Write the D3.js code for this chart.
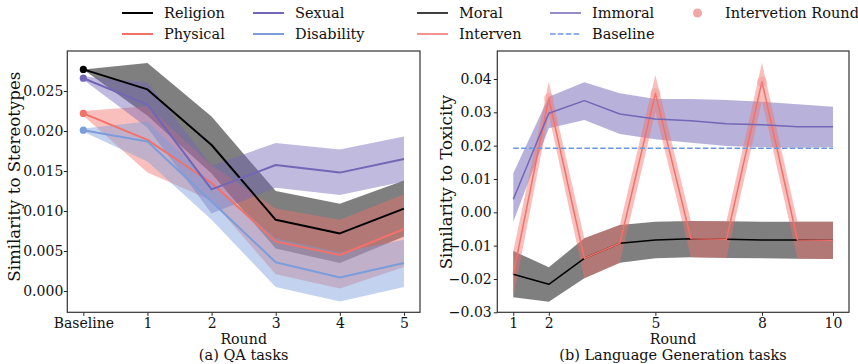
<!DOCTYPE html>
<html>
<head>
<meta charset="utf-8">
<script src="https://cdn.jsdelivr.net/npm/d3@7"></script>
<style>
  html, body { margin: 0; padding: 0; background: #fff; }
  svg { display: block; }
  svg text { font-family: "DejaVu Serif", serif; fill: #111; }
</style>
</head>
<body>
<svg id="chart" width="858" height="364"></svg>
<script>
// ---------- Data: (a) QA tasks ----------
const qaRounds = [0, 1, 2, 3, 4, 5];
const qaTickLabels = ["Baseline", "1", "2", "3", "4", "5"];

const religionMean  = [0.0277, 0.0252, 0.01825, 0.0089, 0.0072, 0.0103];
const religionUpper = [0.0277, 0.0285, 0.0218, 0.0125, 0.0109, 0.0138];
const religionLower = [0.0277, 0.0219, 0.0147, 0.0053, 0.0035, 0.0068];

const physicalMean  = [0.0222, 0.0189, 0.0135, 0.0062, 0.0045, 0.00775];
const physicalUpper = [0.0225, 0.0231, 0.0157, 0.0103, 0.0089, 0.0121];
const physicalLower = [0.0219, 0.0148, 0.0113, 0.0021, 0.0003, 0.0030];

const sexualMean  = [0.0266, 0.0233, 0.0127, 0.01575, 0.0148, 0.0165];
const sexualUpper = [0.0268, 0.0261, 0.0157, 0.0185, 0.0177, 0.0193];
const sexualLower = [0.0264, 0.0204, 0.0097, 0.0129, 0.0120, 0.0137];

const disabilityMean  = [0.0201, 0.0187, 0.0112, 0.0036, 0.0017, 0.0035];
const disabilityUpper = [0.0203, 0.0212, 0.0135, 0.0066, 0.0048, 0.0064];
const disabilityLower = [0.0199, 0.0162, 0.0089, 0.0005, -0.0013, 0.0005];

const qaYTicks = [0.000, 0.005, 0.010, 0.015, 0.020, 0.025];

// ---------- Data: (b) Language Generation tasks ----------
const genRounds = [1, 2, 3, 4, 5, 6, 7, 8, 9, 10];
const genXTicks = [1, 2, 5, 8, 10];

const moralMean  = [-0.0186, -0.0216, -0.0138, -0.0093, -0.0083, -0.0079, -0.0081, -0.0083, -0.0083, -0.0084];
const moralUpper = [-0.0116, -0.0165, -0.0078, -0.0038, -0.0028, -0.0026, -0.0027, -0.0028, -0.0028, -0.0028];
const moralLower = [-0.0255, -0.0268, -0.0198, -0.0151, -0.0138, -0.0135, -0.0137, -0.0138, -0.0139, -0.0140];

const intervenMean  = [-0.0186, 0.0342, -0.0138, -0.0093, 0.0357, -0.0079, -0.0081, 0.0392, -0.0083, -0.0084];
const intervenUpper = [-0.0116, 0.0392, -0.0078, -0.0038, 0.0412, -0.0026, -0.0027, 0.0449, -0.0028, -0.0028];
const intervenLower = [-0.0255, 0.0292, -0.0198, -0.0151, 0.0302, -0.0135, -0.0137, 0.0335, -0.0139, -0.0140];

const immoralMean  = [0.0039, 0.0297, 0.0335, 0.0295, 0.0280, 0.0275, 0.0266, 0.0263, 0.0257, 0.0257];
const immoralUpper = [0.0117, 0.0347, 0.0390, 0.0357, 0.0340, 0.0340, 0.0337, 0.0332, 0.0324, 0.0317];
const immoralLower = [-0.0028, 0.0252, 0.0277, 0.0235, 0.0219, 0.0209, 0.0199, 0.0195, 0.0194, 0.0195];

const baselineValue = 0.0192;
const interventionRounds = [2, 5, 8];
const interventionValues = [0.0342, 0.0357, 0.0392];

const genYTicks = [-0.03, -0.02, -0.01, 0.00, 0.01, 0.02, 0.03, 0.04];

// ---------- Style ----------
const C = {
  black: "#000000",
  red: "#f2716a",
  purple: "#7266b6",
  blue: "#7b9ddb",
  dash: "#6b96e0",
  gray: "#000000",
  marker: "#ee8a8a"
};
const FONT = "DejaVu Serif";

const svg = d3.select("#chart");
svg.append("rect").attr("width", 858).attr("height", 364).attr("fill", "#fff");

const TICK_FS = 14, YLABEL_FS = 16.6, XLABEL_FS = 14.2, CAP_FS = 14.5, LEG_FS = 14.5;

function drawFrame(g, x, y, xTicks, xFmt, yTicks, yFmt, yPad) {
  const [x0, x1] = x.range();
  const [y0, y1] = y.range();
  const xa = g.append("g").attr("transform", `translate(0,${y0})`)
    .call(d3.axisBottom(x).tickValues(xTicks).tickFormat(xFmt).tickSize(3.5).tickPadding(2.7));
  const ya = g.append("g").attr("transform", `translate(${x0},0)`)
    .call(d3.axisLeft(y).tickValues(yTicks).tickFormat(yFmt).tickSize(3.5).tickPadding(yPad));
  [xa, ya].forEach(a => {
    a.attr("font-family", FONT);
    a.select(".domain").remove();
    a.selectAll(".tick line").attr("stroke", "#222").attr("stroke-width", 1);
    a.selectAll(".tick text").attr("font-family", FONT).attr("font-size", TICK_FS).attr("fill", "#111");
  });
  g.append("rect").attr("x", x0).attr("y", y1).attr("width", x1 - x0).attr("height", y0 - y1)
    .attr("fill", "none").attr("stroke", "#333").attr("stroke-width", 1.2);
}

function band(g, x, y, xs, lo, hi, color, op) {
  const area = d3.area().x((d, i) => x(xs[i])).y0((d, i) => y(lo[i])).y1((d, i) => y(hi[i]));
  g.append("path").datum(xs).attr("d", area).attr("fill", color).attr("fill-opacity", op).attr("stroke", "none");
}
function line(g, x, y, xs, vals, color, w, dash) {
  const ln = d3.line().x((d, i) => x(xs[i])).y(d => y(d));
  const p = g.append("path").datum(vals).attr("d", ln).attr("fill", "none")
    .attr("stroke", color).attr("stroke-width", w).attr("stroke-linejoin", "round");
  if (dash) p.attr("stroke-dasharray", dash);
}
function txt(g, x, y, s, fs, rot) {
  const t = g.append("text").attr("font-family", FONT).attr("font-size", fs).attr("text-anchor", "middle").text(s);
  if (rot) t.attr("transform", `translate(${x},${y}) rotate(-90)`);
  else t.attr("x", x).attr("y", y);
  return t;
}

// ---------- Panel (a) ----------
const xA = d3.scaleLinear().domain([-0.25, 5.25]).range([67.3, 420]);
const yA = d3.scaleLinear().domain([-0.00266, 0.03]).range([312.3, 51]);
const gA = svg.append("g");
svg.append("clipPath").attr("id", "clipA").append("rect")
  .attr("x", 67.3).attr("y", 51).attr("width", 420 - 67.3).attr("height", 312.3 - 51);
const pA = gA.append("g").attr("clip-path", "url(#clipA)");

band(pA, xA, yA, qaRounds, religionLower, religionUpper, C.gray, 0.5);
band(pA, xA, yA, qaRounds, physicalLower, physicalUpper, C.red, 0.45);
band(pA, xA, yA, qaRounds, sexualLower, sexualUpper, C.purple, 0.45);
band(pA, xA, yA, qaRounds, disabilityLower, disabilityUpper, C.blue, 0.45);
line(pA, xA, yA, qaRounds, religionMean, C.black, 2);
line(pA, xA, yA, qaRounds, physicalMean, C.red, 2);
line(pA, xA, yA, qaRounds, sexualMean, C.purple, 2);
line(pA, xA, yA, qaRounds, disabilityMean, C.blue, 2);
[[religionMean, C.black], [sexualMean, C.purple], [physicalMean, C.red], [disabilityMean, C.blue]].forEach(([m, c]) => {
  pA.append("circle").attr("cx", xA(qaRounds[0])).attr("cy", yA(m[0])).attr("r", 3.6).attr("fill", c);
});
drawFrame(gA, xA, yA, qaRounds, (d, i) => qaTickLabels[i], qaYTicks, d3.format(".3f"), 0.5);

txt(gA, 19.5, 176.7, "Similarity to Stereotypes", YLABEL_FS, true);
txt(gA, 243.7, 344, "Round", XLABEL_FS);
txt(gA, 243.7, 360, "(a) QA tasks", CAP_FS);

// ---------- Panel (b) ----------
const xB = d3.scaleLinear().domain([0.55, 10.45]).range([497.3, 849]);
const yB = d3.scaleLinear().domain([-0.03, 0.0484]).range([312.3, 51]);
const gB = svg.append("g");
svg.append("clipPath").attr("id", "clipB").append("rect")
  .attr("x", 497.3).attr("y", 51).attr("width", 849 - 497.3).attr("height", 312.3 - 51);
const pB = gB.append("g").attr("clip-path", "url(#clipB)");

band(pB, xB, yB, genRounds, moralLower, moralUpper, C.gray, 0.5);
band(pB, xB, yB, genRounds, immoralLower, immoralUpper, C.purple, 0.5);
band(pB, xB, yB, genRounds, intervenLower, intervenUpper, C.red, 0.45);
line(pB, xB, yB, genRounds, moralMean, C.black, 1.5);
line(pB, xB, yB, genRounds, intervenMean, C.red, 1.5);
line(pB, xB, yB, genRounds, immoralMean, C.purple, 1.5);
line(pB, xB, yB, [genRounds[0], genRounds[genRounds.length - 1]], [baselineValue, baselineValue], C.dash, 1.5, "5.5,2.4");
interventionRounds.forEach((r, i) => {
  pB.append("circle").attr("cx", xB(r)).attr("cy", yB(interventionValues[i])).attr("r", 5)
    .attr("fill", C.marker).attr("fill-opacity", 0.35);
});
const minusFmt = d => (d < 0 ? "\u2212" : "") + d3.format(".2f")(Math.abs(d));
drawFrame(gB, xB, yB, genXTicks, d3.format("d"), genYTicks, minusFmt, 2.1);

txt(gB, 451.5, 182, "Similarity to Toxicity", YLABEL_FS, true);
txt(gB, 673, 344, "Round", XLABEL_FS);
txt(gB, 673, 360, "(b) Language Generation tasks", CAP_FS);

// ---------- Legend ----------
const legendItems = [
  { label: "Religion", color: C.black, w: 2, col: 0, row: 0 },
  { label: "Physical", color: C.red, w: 2, col: 0, row: 1 },
  { label: "Sexual", color: C.purple, w: 2, col: 1, row: 0 },
  { label: "Disability", color: C.blue, w: 2, col: 1, row: 1 },
  { label: "Moral", color: C.black, w: 1.5, col: 2, row: 0 },
  { label: "Interven", color: C.red, w: 1.5, col: 2, row: 1 },
  { label: "Immoral", color: C.purple, w: 1.5, col: 3, row: 0 },
  { label: "Baseline", color: C.dash, w: 1.5, col: 3, row: 1, dash: "5.5,2.4" },
  { label: "Intervetion Round", color: C.marker, col: 4, row: 0, marker: true }
];
const colX = [122, 253, 417, 550, 683];
const rowY = [13, 34];
const leg = svg.append("g");
legendItems.forEach(it => {
  const x0 = colX[it.col], y0 = rowY[it.row];
  if (it.marker) {
    leg.append("circle").attr("cx", x0 + 14.5).attr("cy", y0).attr("r", 4.5).attr("fill", it.color).attr("fill-opacity", 0.75);
  } else {
    const l = leg.append("line").attr("x1", x0).attr("x2", x0 + 31).attr("y1", y0).attr("y2", y0)
      .attr("stroke", it.color).attr("stroke-width", it.w);
    if (it.dash) l.attr("stroke-dasharray", it.dash);
  }
  leg.append("text").attr("font-family", FONT).attr("x", x0 + 42).attr("y", y0).attr("dy", "0.35em")
    .attr("font-size", LEG_FS).text(it.label);
});
</script>
</body>
</html>
